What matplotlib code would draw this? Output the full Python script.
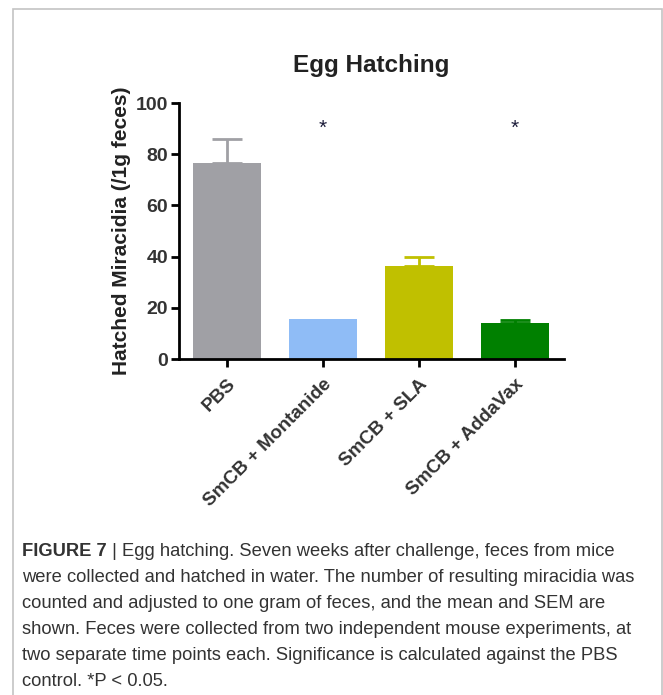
import matplotlib
matplotlib.use("Agg")
import matplotlib.pyplot as plt
from matplotlib import font_manager
from matplotlib.patches import Rectangle

# Data
groups = ["PBS", "SmCB + Montanide", "SmCB + SLA", "SmCB + AddaVax"]
means = [76.4, 15.8, 36.5, 14.0]
sems = [9.6, 0.0, 3.2, 1.3]
significant = [False, True, False, True]
bar_colors = ["#a0a0a5", "#8fbcf6", "#c0c000", "#008000"]

title = "Egg Hatching"
ylabel = "Hatched Miracidia (/1g feces)"
yticks = [0, 20, 40, 60, 80, 100]

caption_head = "FIGURE 7"
caption_lines = [
    " | Egg hatching. Seven weeks after challenge, feces from mice",
    "were collected and hatched in water. The number of resulting miracidia was",
    "counted and adjusted to one gram of feces, and the mean and SEM are",
    "shown. Feces were collected from two independent mouse experiments, at",
    "two separate time points each. Significance is calculated against the PBS",
    "control. *P < 0.05.",
]

available = {f.name for f in font_manager.fontManager.ttflist}
chart_font = "Liberation Sans" if "Liberation Sans" in available else "DejaVu Sans"
caption_font = chart_font

W, H, DPI = 663, 695, 100
fig = plt.figure(figsize=(W / DPI, H / DPI), dpi=DPI)
fig.patch.set_facecolor("white")

# Frame around the figure panel
fig.patches.append(Rectangle((13 / W, -0.02), (662 - 13) / W, 1 - 9 / H + 0.02,
                             transform=fig.transFigure, fill=False,
                             edgecolor="#c4c4c4", lw=1.2))

ax = fig.add_axes([179 / W, 1 - 359 / H, (564 - 179) / W, (359 - 103) / H])
x = list(range(len(groups)))
ax.bar(x, means, width=0.7, color=bar_colors, zorder=2)
for xi, m, s, c in zip(x, means, sems, bar_colors):
    if s > 0:
        ax.errorbar(xi, m, yerr=[[0], [s]], fmt="none", ecolor=c,
                    elinewidth=2, capsize=11, capthick=2, zorder=1)
for xi, sig in zip(x, significant):
    if sig:
        ax.text(xi, 90, "*", ha="center", va="center", fontsize=15,
                color="#1c1c3a", family=chart_font)

ax.set_xlim(-0.5, 3.51)
ax.set_ylim(0, 100)
ax.set_yticks(yticks)
ax.set_yticklabels([str(t) for t in yticks], fontsize=14, fontweight="bold",
                   color="#333333", family=chart_font)
ax.set_xticks(x)
ax.set_xticklabels(groups, rotation=45, ha="right", rotation_mode="anchor",
                   fontsize=13.6, fontweight="bold", color="#333333", family=chart_font)
for sp in ["top", "right"]:
    ax.spines[sp].set_visible(False)
for sp in ["left", "bottom"]:
    ax.spines[sp].set_linewidth(2)
ax.tick_params(axis="y", length=6, width=2, pad=2)
ax.tick_params(axis="x", length=6, width=2, pad=6)
ax.set_ylabel(ylabel, fontsize=15, fontweight="bold", color="#222222",
              family=chart_font, labelpad=3)
ax.set_title(title, fontsize=17.5, fontweight="bold", color="#222222",
             family=chart_font, pad=22)

# Caption
cap_size = 13.2
y0 = 1 - 551 / H
head = fig.text(22 / W, y0, caption_head, fontsize=cap_size, fontweight="bold",
                family=caption_font, color="#333333", va="center")
renderer = fig.canvas.get_renderer()
bb = head.get_window_extent(renderer)
fig.text(bb.x1 / W, y0, caption_lines[0], fontsize=cap_size, family=caption_font,
         color="#333333", va="center")
for i, line in enumerate(caption_lines[1:], start=1):
    fig.text(22 / W, 1 - (551 + 26 * i) / H, line, fontsize=cap_size,
             family=caption_font, color="#333333", va="center")

fig.savefig("out.png", dpi=DPI)
